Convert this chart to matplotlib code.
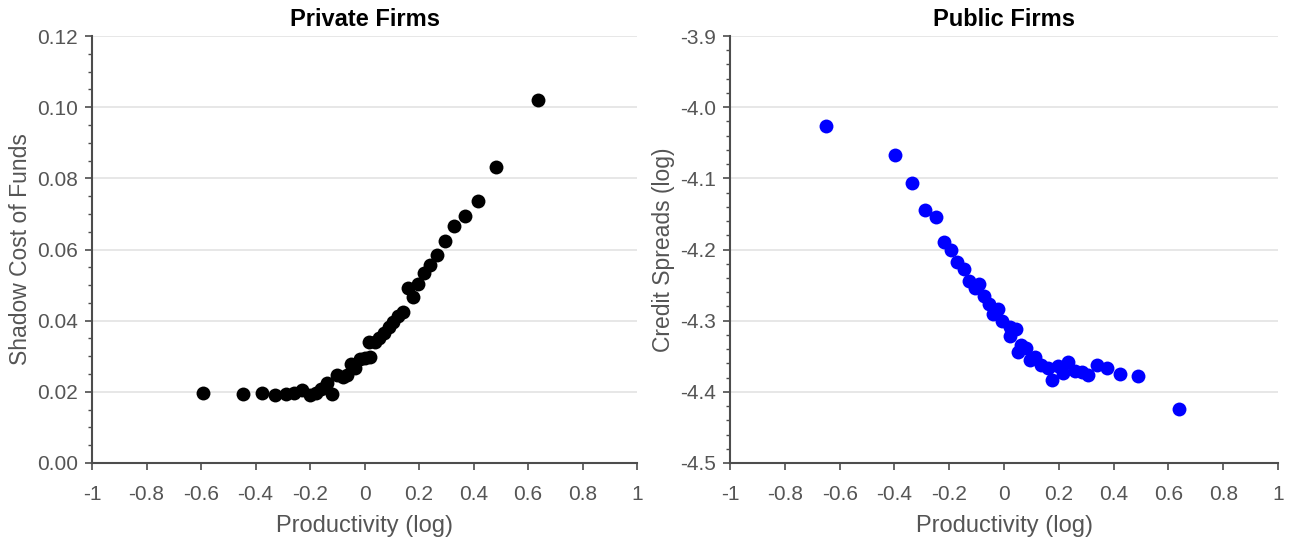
import matplotlib
matplotlib.use("Agg")
import matplotlib.pyplot as plt
from matplotlib.ticker import MultipleLocator, FuncFormatter, FormatStrFormatter

plt.rcParams['font.family'] = ['Liberation Sans', 'DejaVu Sans']

# Private firms: productivity (log) vs shadow cost of funds
priv_x = [-0.593, -0.446, -0.376, -0.328, -0.288, -0.259, -0.229, -0.200, -0.178, -0.160,
          -0.138, -0.119, -0.101, -0.079, -0.064, -0.050, -0.035, -0.017, 0.002, 0.020,
          0.017, 0.039, 0.053, 0.072, 0.090, 0.105, 0.123, 0.141, 0.160, 0.178,
          0.196, 0.218, 0.240, 0.266, 0.295, 0.328, 0.369, 0.416, 0.482, 0.637]
priv_y = [0.0197, 0.0194, 0.0197, 0.0191, 0.0194, 0.0197, 0.0205, 0.0191, 0.0197, 0.0208,
          0.0225, 0.0194, 0.0247, 0.0242, 0.0247, 0.0278, 0.0267, 0.0292, 0.0295, 0.0298,
          0.0340, 0.0340, 0.0351, 0.0365, 0.0382, 0.0396, 0.0413, 0.0424, 0.0492, 0.0467,
          0.0503, 0.0534, 0.0556, 0.0585, 0.0624, 0.0666, 0.0694, 0.0736, 0.0832, 0.1020]

# Public firms: productivity (log) vs credit spreads (log)
pub_x = [-0.650, -0.399, -0.335, -0.288, -0.248, -0.221, -0.195, -0.170, -0.146, -0.129,
         -0.107, -0.090, -0.073, -0.054, -0.023, -0.039, -0.006, 0.022, 0.043, 0.022,
         0.062, 0.049, 0.080, 0.113, 0.095, 0.135, 0.162, 0.196, 0.176, 0.214,
         0.235, 0.259, 0.284, 0.308, 0.338, 0.375, 0.423, 0.490, 0.639]
pub_y = [-4.026, -4.067, -4.106, -4.145, -4.154, -4.189, -4.200, -4.218, -4.227, -4.244,
         -4.254, -4.248, -4.265, -4.276, -4.284, -4.291, -4.301, -4.309, -4.312, -4.322,
         -4.334, -4.344, -4.339, -4.351, -4.355, -4.362, -4.366, -4.364, -4.383, -4.373,
         -4.358, -4.371, -4.372, -4.376, -4.362, -4.367, -4.375, -4.378, -4.424]

x_ticks = [-1, -0.8, -0.6, -0.4, -0.2, 0, 0.2, 0.4, 0.6, 0.8, 1]

fig = plt.figure(figsize=(12.91, 5.40), dpi=100)
ax1 = fig.add_axes([0.0713, 0.1426, 0.4222, 0.7907])
ax2 = fig.add_axes([0.5655, 0.1426, 0.4245, 0.7907])

spine_c = '#4d4d4d'
text_c = '#555555'

def style(ax):
    for s in ['top', 'right']:
        ax.spines[s].set_visible(False)
    for s in ['left', 'bottom']:
        ax.spines[s].set_color(spine_c)
        ax.spines[s].set_linewidth(1.5)
    ax.set_xlim(-1, 1)
    ax.set_xticks(x_ticks)
    ax.xaxis.set_major_formatter(FuncFormatter(lambda v, p: ('%g' % round(v, 2)).replace('\u2212', '-')))
    ax.tick_params(axis='both', which='major', direction='out', length=5, width=1.2,
                   color=spine_c, labelcolor=text_c, labelsize=15)
    ax.tick_params(axis='x', which='major', pad=10.5)
    ax.tick_params(axis='y', which='major', pad=5)
    ax.tick_params(axis='y', which='minor', direction='out', length=3, width=1.0, color=spine_c)
    ax.grid(axis='y', which='major', color='#e3e3e3', linewidth=1.2)
    ax.set_axisbelow(True)
    ax.set_xlabel('Productivity (log)', fontsize=17, color=text_c, labelpad=8.5)

ax1.scatter(priv_x, priv_y, s=100, color='black', zorder=3, linewidths=0)
style(ax1)
ax1.set_ylim(0, 0.12)
ax1.yaxis.set_major_locator(MultipleLocator(0.02))
ax1.yaxis.set_minor_locator(MultipleLocator(0.005))
ax1.yaxis.set_major_formatter(FormatStrFormatter('%.2f'))
ax1.set_ylabel('Shadow Cost of Funds', fontsize=16.5, color=text_c, labelpad=3.5)
ax1.set_title('Private Firms', fontsize=17, fontweight='bold', pad=7.5)

ax2.scatter(pub_x, pub_y, s=100, color='#0000ff', zorder=3, linewidths=0)
style(ax2)
ax2.set_ylim(-4.5, -3.9)
ax2.yaxis.set_major_locator(MultipleLocator(0.1))
ax2.yaxis.set_minor_locator(MultipleLocator(0.02))
ax2.yaxis.set_major_formatter(FuncFormatter(lambda v, p: '%.1f' % v))
ax2.set_ylabel('Credit Spreads (log)', fontsize=16.5, color=text_c, labelpad=3.5)
ax2.set_title('Public Firms', fontsize=17, fontweight='bold', pad=7.5)

fig.savefig('out.png', dpi=100)
